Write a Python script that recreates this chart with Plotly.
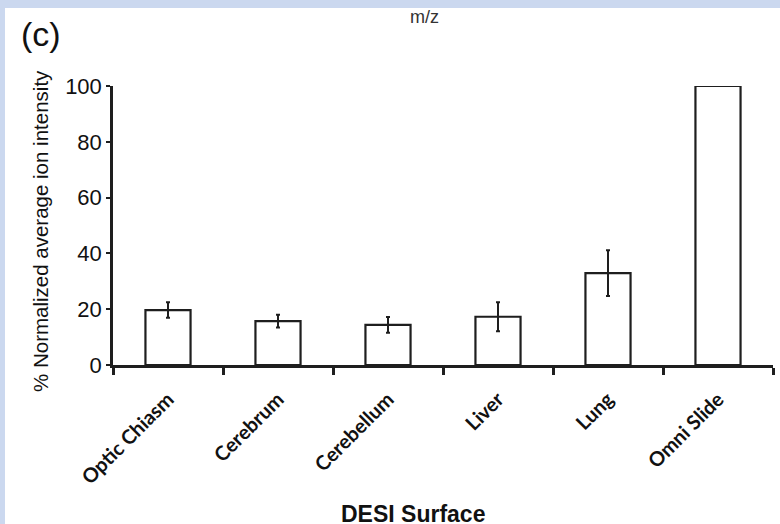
import plotly.graph_objects as go

categories = ["Optic Chiasm", "Cerebrum", "Cerebellum", "Liver", "Lung", "Omni Slide"]
values = [19.7, 15.7, 14.4, 17.3, 32.9, 100]
errors = [2.8, 2.3, 2.8, 5.2, 8.2, 0]
y_ticks = [0, 20, 40, 60, 80, 100]

W, H = 780, 524
ML, MR, MT, MB = 113, 7, 86, 159
PW = W - ML - MR
PH = H - MT - MB
Y0 = H - MB  # pixel of y=0

def px(x):
    return (x - ML) / PW

def py(y):
    return (Y0 - y) / PH

AX = "#1e1e1e"
BLUE = "#CBD8EF"
ARIAL = "Liberation Sans, Arial, sans-serif"

fig = go.Figure(go.Bar(
    x=categories, y=values,
    marker=dict(color="white", line=dict(color=AX, width=2.2)),
    error_y=dict(type="data", array=errors, visible=True, color=AX, thickness=2, width=2),
    showlegend=False,
))

fig.update_layout(
    width=W, height=H,
    margin=dict(l=ML, r=MR, t=MT, b=MB, pad=0),
    paper_bgcolor=BLUE,
    plot_bgcolor="rgba(0,0,0,0)",
    bargap=0.59,
    font=dict(family=ARIAL, color="#111"),
    shapes=[dict(type="rect", xref="paper", yref="paper", x0=px(5), x1=px(W + 5),
                 y0=py(H + 5), y1=py(8), fillcolor="white", line=dict(width=0), layer="below")],
    annotations=[
        dict(text="(c)", x=px(19), y=py(13), xref="paper", yref="paper", xanchor="left", yanchor="top",
             showarrow=False, font=dict(family=ARIAL, size=34, color="#111")),
        dict(text="m/z", x=px(424), y=py(17), xref="paper", yref="paper", xanchor="center", yanchor="middle",
             showarrow=False, font=dict(family=ARIAL, size=18, color="#333")),
        dict(text="<b>DESI Surface</b>", x=px(413), y=py(499), xref="paper", yref="paper",
             xanchor="center", yanchor="top", showarrow=False,
             font=dict(family=ARIAL, size=23, color="#111")),
        dict(text="% Normalized average ion intensity", x=px(40), y=py(231), xref="paper", yref="paper",
             xanchor="center", yanchor="middle", textangle=-90, showarrow=False,
             font=dict(family=ARIAL, size=20.5, color="#111")),
    ],
)

fig.update_yaxes(
    range=[0, 100], tickvals=y_ticks, ticktext=[str(v) for v in y_ticks],
    showline=True, linewidth=2.5, linecolor=AX, mirror=False,
    ticks="outside", ticklen=4, tickwidth=2, tickcolor=AX,
    showgrid=False, zeroline=False,
    tickfont=dict(family=ARIAL, size=22, color="#111"),
)
fig.update_xaxes(
    showline=True, linewidth=2.5, linecolor=AX,
    ticks="outside", ticklen=7, tickwidth=2.5, tickcolor=AX, tickson="boundaries",
    tickangle=-45, showgrid=False, ticklabelstandoff=12,
    tickfont=dict(family="Lato, Open Sans, sans-serif", size=20, color="#111", weight="bold"),
)

fig.write_html(
    "out.html",
    config={"displayModeBar": False},
    post_script="document.body.style.margin='0';document.body.style.background='%s';" % BLUE,
)
